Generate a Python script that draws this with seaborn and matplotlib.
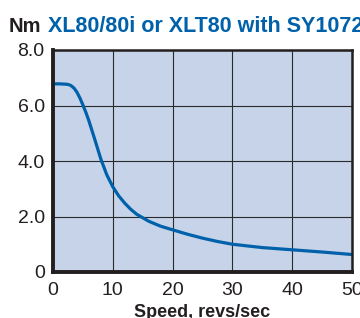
import pandas as pd
import matplotlib
matplotlib.use("Agg")
import matplotlib.pyplot as plt
import seaborn as sns

sns.set_style("white")
plt.rcParams["font.family"] = ["Liberation Sans", "DejaVu Sans"]

# Torque curve
speed = [0, 1, 2, 2.5, 3, 3.5, 4, 4.5, 5, 5.5, 6, 7, 8, 9, 10, 11, 12, 13, 14, 16, 18, 20,
         22.5, 25, 27.5, 30, 35, 40, 45, 50]
torque = [6.78, 6.78, 6.77, 6.76, 6.72, 6.63, 6.48, 6.27, 6.02, 5.75, 5.45, 4.77, 4.07, 3.5, 3.07,
          2.74, 2.48, 2.26, 2.08, 1.83, 1.65, 1.52, 1.36, 1.22, 1.1, 1.0, 0.88, 0.8, 0.72, 0.63]
x_ticks = [0, 10, 20, 30, 40, 50]
y_ticks = [0, 2, 4, 6, 8]
y_labels = ["0", "2.0", "4.0", "6.0", "8.0"]

df = pd.DataFrame({"speed": speed, "torque": torque})

fig = plt.figure(figsize=(3.6, 3.18), dpi=100)
ax = fig.add_axes([53 / 360, 46 / 318, 299 / 360, 222 / 318])
ax.set_facecolor("#c6d3e9")

sns.lineplot(data=df, x="speed", y="torque", ax=ax, color="#0061ab", linewidth=2.3)

ax.set_xlim(0, 50)
ax.set_ylim(0, 8)
ax.set_xticks(x_ticks)
ax.set_yticks(y_ticks)
ax.set_yticklabels(y_labels)
ax.grid(True, color="#2a2a2a", linewidth=0.8)
ax.tick_params(length=0, labelsize=14, colors="#231f20")
ax.tick_params(axis="x", pad=7)
ax.tick_params(axis="y", pad=6)

for side in ["left", "bottom"]:
    ax.spines[side].set_linewidth(2.8)
    ax.spines[side].set_color("#231f20")
for side in ["top", "right"]:
    ax.spines[side].set_linewidth(1.8)
    ax.spines[side].set_color("#231f20")

ax.set_xlabel("Speed, revs/sec", fontsize=13, fontweight="bold", color="#231f20", labelpad=4)
ax.set_ylabel("")

fig.text(9 / 360, 1 - 26 / 318, "Nm", fontsize=14.5, fontweight="bold", color="#231f20", va="center")
fig.text(48 / 360, 1 - 26 / 318, "XL80/80i or XLT80 with SY1072", fontsize=15.5,
         fontweight="bold", color="#0061ab", va="center")

plt.savefig("out.png", dpi=100)
